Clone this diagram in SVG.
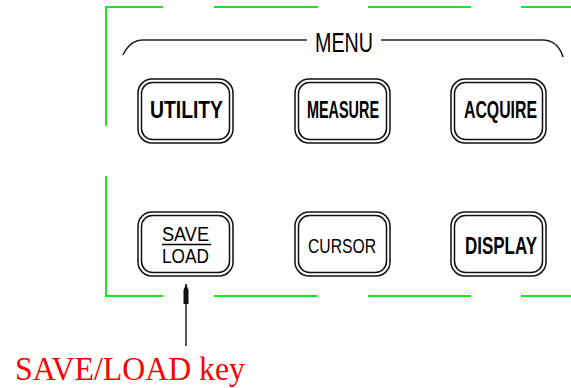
<svg xmlns="http://www.w3.org/2000/svg" width="571" height="388" viewBox="0 0 571 388">
<style>
.panel{stroke:#1ee61e;stroke-width:2;fill:none}
.brk{stroke:#222;stroke-width:1.5;fill:none}
.outer{fill:none;stroke:#111;stroke-width:1.5}
.inner{fill:none;stroke:#111;stroke-width:1.5}
.bt{font-family:"Liberation Sans",Arial,sans-serif;font-weight:bold;fill:#000}
.rt{font-family:"Liberation Sans",Arial,sans-serif;fill:#000}
.conn{stroke:#222;stroke-width:1.5;fill:none}
</style>
<defs>
<marker id="ah" viewBox="0 0 20 6" refX="20" refY="3" markerWidth="20" markerHeight="6" markerUnits="userSpaceOnUse" orient="auto">
<path d="M0,0.5 L14,0.5 L20,3 L14,5.5 L0,5.5 Z" fill="#111"/>
</marker>
</defs>
<rect width="571" height="388" fill="#fff"/>
<g id="panel">
<path class="panel" d="M106,126 V7 H163 M214,7 H318 M368,7 H471 M521,7 H571"/>
<path class="panel" d="M106,176 V296 H163 M214,296 H318 M368,296 H471 M521,296 H571"/>
</g>
<g id="menu">
<path class="brk" d="M123,55 Q130,40 143,40 H307 M381,40 H542 Q558,40 563,57"/>
<text class="rt" x="344" y="52" font-size="27" text-anchor="middle" textLength="58" lengthAdjust="spacingAndGlyphs">MENU</text>
</g>
<g id="utility">
<rect class="outer" x="138" y="79" width="95" height="64" rx="14"/>
<rect class="inner" x="141.5" y="82.5" width="88" height="57" rx="11"/>
<text class="bt" x="186.5" y="118" font-size="23" text-anchor="middle" textLength="73" lengthAdjust="spacingAndGlyphs">UTILITY</text>
</g>
<g id="measure">
<rect class="outer" x="295" y="79" width="95" height="64" rx="14"/>
<rect class="inner" x="298.5" y="82.5" width="88" height="57" rx="11"/>
<text class="bt" x="343" y="118" font-size="23" text-anchor="middle" textLength="72" lengthAdjust="spacingAndGlyphs">MEASURE</text>
</g>
<g id="acquire">
<rect class="outer" x="451" y="79" width="95" height="64" rx="14"/>
<rect class="inner" x="454.5" y="82.5" width="88" height="57" rx="11"/>
<text class="bt" x="500.5" y="118" font-size="23" text-anchor="middle" textLength="73" lengthAdjust="spacingAndGlyphs">ACQUIRE</text>
</g>
<g id="saveload">
<rect class="outer" x="138" y="212" width="95" height="64" rx="14"/>
<rect class="inner" x="141.5" y="215.5" width="88" height="57" rx="11"/>
<text class="rt" x="185.5" y="241" font-size="20" text-anchor="middle" textLength="47" lengthAdjust="spacingAndGlyphs">SAVE</text>
<line x1="162" y1="244.5" x2="211" y2="244.5" stroke="#000" stroke-width="1.5"/>
<text class="rt" x="185.5" y="263" font-size="20" text-anchor="middle" textLength="47" lengthAdjust="spacingAndGlyphs">LOAD</text>
</g>
<g id="cursor">
<rect class="outer" x="295" y="212" width="95" height="64" rx="14"/>
<rect class="inner" x="298.5" y="215.5" width="88" height="57" rx="11"/>
<text class="rt" x="342" y="252.5" font-size="20.5" text-anchor="middle" textLength="68" lengthAdjust="spacingAndGlyphs">CURSOR</text>
</g>
<g id="display">
<rect class="outer" x="451" y="212" width="95" height="64" rx="14"/>
<rect class="inner" x="454.5" y="215.5" width="88" height="57" rx="11"/>
<text class="bt" x="501" y="253.5" font-size="23.5" text-anchor="middle" textLength="72" lengthAdjust="spacingAndGlyphs">DISPLAY</text>
</g>
<g id="connectors">
<line class="conn" x1="186" y1="346" x2="186" y2="284" marker-end="url(#ah)"/>
</g>
<g id="label">
<text x="15" y="380" font-family="'Liberation Serif','Times New Roman',serif" font-size="34" fill="#ff0000" textLength="230" lengthAdjust="spacingAndGlyphs">SAVE/LOAD key</text>
</g>
</svg>
